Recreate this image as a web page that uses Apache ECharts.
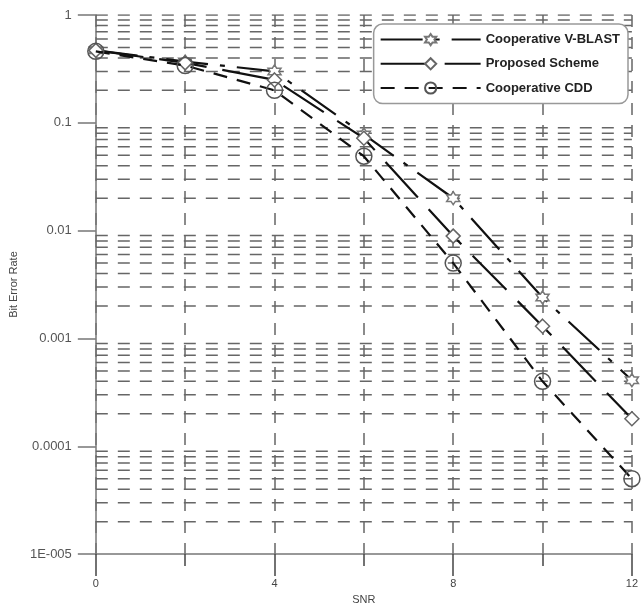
<!DOCTYPE html>
<html>
<head>
<meta charset="utf-8">
<script src="https://cdn.jsdelivr.net/npm/echarts@6/dist/echarts.min.js"></script>
<style>
  html, body { margin: 0; padding: 0; background: #fff; }
  #main { width: 641px; height: 610px; }
</style>
</head>
<body>
<div id="main"></div>
<script>
// SNR points
var snr = [0, 2, 4, 6, 8, 10, 12];
// BER
var vblast   = [0.47, 0.37, 0.30, 0.078, 0.020, 0.0024, 0.00041];
var proposed = [0.47, 0.36, 0.25, 0.072, 0.0089, 0.0013, 0.00018];
var cdd      = [0.46, 0.34, 0.20, 0.049, 0.0050, 0.00040, 0.00005];
var xTickLabels = { 0: '0', 4: '4', 8: '8', 12: '12' };
var yTickLabels = ['1E-005', '0.0001', '0.001', '0.01', '0.1', '1'];

var starPath = 'path://M0,-10 L2.9,-5 L8.66,-5 L5.77,0 L8.66,5 L2.9,5 L0,10 L-2.9,5 L-8.66,5 L-5.77,0 L-8.66,-5 L-2.9,-5 Z';

function pairs(ys) {
  return snr.map(function (x, i) { return [x, ys[i]]; });
}

// horizontal dashed grid at 2..9 of every decade, plus the top edge
var gridLevels = [1];
for (var e = -5; e < 0; e++) {
  for (var m = 2; m <= 9; m++) {
    gridLevels.push(m * Math.pow(10, e));
  }
}
var gridData = [];
gridLevels.forEach(function (v) {
  gridData.push([0, v], [12, v], [6, '-']);
});

var chartDom = document.getElementById('main');
var myChart = echarts.init(chartDom);
var gridStyle = { color: '#666', width: 1.5, type: [12, 10] };

var option = {
  backgroundColor: '#fff',
  animation: false,
  textStyle: { fontFamily: 'Liberation Sans, Arial, sans-serif' },
  grid: { left: 93, right: 4, top: 15, bottom: 52 },
  legend: {
    right: 13,
    top: 24,
    orient: 'vertical',
    backgroundColor: '#fff',
    borderColor: '#999',
    borderWidth: 1.5,
    borderRadius: 9,
    padding: [9, 8, 9, 6],
    itemWidth: 100,
    itemHeight: 14,
    itemGap: 11,
    textStyle: { fontSize: 13, fontWeight: 'bold', color: '#222' },
    data: ['Cooperative V-BLAST', 'Proposed Scheme', 'Cooperative CDD']
  },
  xAxis: {
    type: 'value',
    min: 0,
    max: 12,
    interval: 4,
    name: 'SNR',
    nameLocation: 'middle',
    nameGap: 38,
    nameTextStyle: { fontSize: 11, color: '#444' },
    axisLine: { lineStyle: { color: '#777', width: 1.5 } },
    axisTick: { length: 22, lineStyle: { color: '#444', width: 1.5 } },
    minorTick: { show: true, splitNumber: 2, length: 12, lineStyle: { color: '#444', width: 1.5 } },
    axisLabel: {
      margin: 24,
      fontSize: 11,
      color: '#444',
      formatter: function (v) { return xTickLabels[v] || ''; }
    },
    splitLine: { show: true, lineStyle: gridStyle },
    minorSplitLine: { show: true, lineStyle: gridStyle }
  },
  yAxis: {
    type: 'log',
    logBase: 10,
    min: 0.00001,
    max: 1,
    name: 'Bit Error Rate',
    nameLocation: 'middle',
    nameRotate: 90,
    nameGap: 76,
    nameTextStyle: { fontSize: 11, color: '#444' },
    axisLine: { show: true, lineStyle: { color: '#777', width: 1.5 } },
    axisTick: { length: 18, lineStyle: { color: '#777', width: 1.5 } },
    axisLabel: {
      margin: 24,
      fontSize: 13,
      color: '#555',
      formatter: function (v) {
        var idx = Math.round(Math.log10(v)) + 5;
        return yTickLabels[idx] || '';
      }
    },
    splitLine: { show: false }
  },
  series: [
    {
      name: 'grid',
      type: 'line',
      data: gridData,
      symbol: 'none',
      silent: true,
      connectNulls: false,
      lineStyle: gridStyle,
      z: 1
    },
    {
      name: 'Cooperative V-BLAST',
      type: 'line',
      data: pairs(vblast),
      symbol: starPath,
      symbolSize: 13,
      itemStyle: { color: '#fff', borderColor: '#777', borderWidth: 1.5 },
      lineStyle: { color: '#111', width: 2.2, type: [42, 12, 5, 12] },
      z: 3
    },
    {
      name: 'Proposed Scheme',
      type: 'line',
      data: pairs(proposed),
      symbol: 'diamond',
      symbolSize: 14,
      itemStyle: { color: '#fff', borderColor: '#666', borderWidth: 1.5 },
      lineStyle: { color: '#111', width: 2.2, type: [48, 16] },
      z: 4
    },
    {
      name: 'Cooperative CDD',
      type: 'line',
      data: pairs(cdd),
      symbol: 'circle',
      symbolSize: 16,
      itemStyle: { color: 'rgba(255,255,255,0)', borderColor: '#555', borderWidth: 1.5 },
      lineStyle: { color: '#111', width: 2.2, type: [14, 10] },
      z: 5
    }
  ]
};

option && myChart.setOption(option);
</script>
</body>
</html>
